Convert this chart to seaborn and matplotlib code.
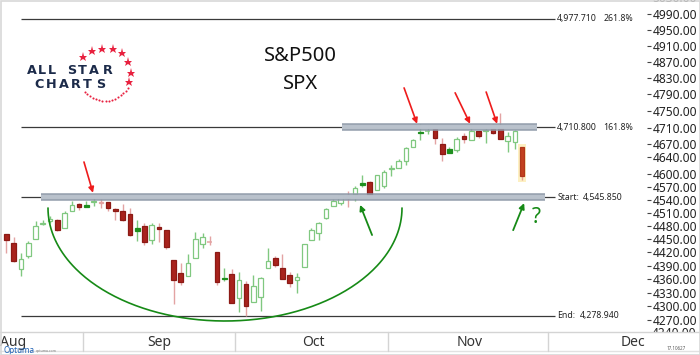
import numpy as np
import pandas as pd
import matplotlib
matplotlib.use("Agg")
import matplotlib.pyplot as plt
import seaborn as sns
from matplotlib.patches import Rectangle
from matplotlib.lines import Line2D
from matplotlib.ticker import FuncFormatter, NullLocator, FixedLocator
from matplotlib.transforms import blended_transform_factory

# ---------------- data ----------------
dates = (["08-17", "08-18", "08-19", "08-20", "08-23", "08-24", "08-25", "08-26", "08-27", "08-30", "08-31"] +
         ["09-01", "09-02", "09-03", "09-07", "09-08", "09-09", "09-10", "09-13", "09-14", "09-15", "09-16",
          "09-17", "09-20", "09-21", "09-22", "09-23", "09-24", "09-27", "09-28", "09-29", "09-30"] +
         ["10-01", "10-04", "10-05", "10-06", "10-07", "10-08", "10-11", "10-12", "10-13", "10-14", "10-15",
          "10-18", "10-19", "10-20", "10-21", "10-22", "10-25", "10-26", "10-27", "10-28", "10-29"] +
         ["11-01", "11-02", "11-03", "11-04", "11-05", "11-08", "11-09", "11-10", "11-11", "11-12", "11-15",
          "11-16", "11-17", "11-18", "11-19", "11-22", "11-23", "11-24", "11-26"])

opens = [4462.12, 4440.94, 4382.44, 4410.56, 4450.29, 4484.40, 4490.45, 4493.75, 4474.10, 4513.76, 4529.75,
         4528.80, 4534.48, 4532.42, 4535.38, 4518.09, 4513.02, 4506.92, 4474.81, 4479.33, 4447.49, 4477.09,
         4469.74, 4402.95, 4374.45, 4367.43, 4406.75, 4438.04, 4442.12, 4419.54, 4362.41, 4370.67,
         4317.16, 4348.84, 4309.87, 4319.57, 4383.73, 4406.51, 4385.44, 4368.31, 4358.01, 4386.75, 4447.69,
         4463.72, 4497.34, 4524.42, 4532.24, 4546.12, 4553.69, 4578.69, 4580.22, 4562.84, 4572.87,
         4610.62, 4613.34, 4630.65, 4662.93, 4699.26, 4701.48, 4707.25, 4670.26, 4659.39, 4655.24, 4689.30,
         4679.42, 4701.50, 4700.72, 4708.44, 4712.00, 4678.48, 4675.78, 4664.63]
highs = [4462.12, 4454.32, 4418.61, 4444.35, 4489.88, 4492.81, 4501.71, 4495.90, 4513.33, 4537.36, 4531.39,
         4537.11, 4545.85, 4541.45, 4535.38, 4521.79, 4529.90, 4520.47, 4492.99, 4485.68, 4486.87, 4485.87,
         4471.52, 4402.95, 4394.87, 4416.75, 4465.40, 4463.12, 4457.30, 4419.54, 4385.57, 4382.55,
         4375.19, 4355.51, 4369.23, 4365.57, 4429.97, 4412.02, 4415.88, 4374.89, 4372.87, 4439.73, 4475.82,
         4488.75, 4520.40, 4540.87, 4551.44, 4559.67, 4572.62, 4598.53, 4584.57, 4597.55, 4608.08,
         4620.34, 4635.15, 4663.46, 4683.00, 4718.50, 4714.92, 4708.53, 4684.85, 4664.55, 4688.47, 4697.42,
         4714.95, 4701.50, 4708.80, 4717.75, 4743.83, 4699.39, 4702.87, 4664.63]
lows = [4417.83, 4397.59, 4367.73, 4406.80, 4450.29, 4482.28, 4485.66, 4468.99, 4474.10, 4513.76, 4515.80,
        4522.02, 4524.66, 4521.79, 4513.00, 4493.95, 4492.07, 4457.66, 4445.70, 4435.46, 4438.37, 4443.80,
        4427.76, 4305.91, 4347.96, 4367.43, 4406.75, 4430.27, 4436.19, 4346.33, 4355.08, 4306.24,
        4288.52, 4278.94, 4309.87, 4290.49, 4383.73, 4386.22, 4360.59, 4342.09, 4329.92, 4386.75, 4447.69,
        4447.47, 4496.41, 4524.40, 4526.89, 4524.00, 4537.36, 4569.17, 4551.66, 4562.84, 4567.59,
        4595.06, 4613.34, 4621.19, 4662.59, 4681.32, 4694.39, 4670.87, 4630.86, 4648.31, 4650.77, 4672.86,
        4679.42, 4684.41, 4672.78, 4694.22, 4682.17, 4652.66, 4659.89, 4585.43]
closes = [4448.08, 4400.27, 4405.80, 4441.67, 4479.53, 4486.23, 4496.19, 4470.00, 4509.37, 4528.79, 4522.68,
          4524.09, 4536.95, 4535.43, 4520.03, 4514.07, 4493.28, 4458.58, 4468.73, 4443.05, 4480.70, 4473.75,
          4432.99, 4357.73, 4354.19, 4395.64, 4448.98, 4455.48, 4443.11, 4352.63, 4359.46, 4307.54,
          4357.04, 4300.46, 4345.72, 4363.55, 4399.76, 4391.34, 4361.19, 4350.65, 4363.80, 4438.26, 4471.37,
          4486.46, 4519.63, 4536.19, 4549.78, 4544.90, 4566.48, 4574.79, 4551.68, 4596.42, 4605.38,
          4613.67, 4630.65, 4660.57, 4680.06, 4697.53, 4701.70, 4685.25, 4646.71, 4649.27, 4682.85, 4682.80,
          4700.90, 4688.67, 4704.54, 4697.96, 4682.94, 4690.70, 4701.46, 4594.62]
prior_close = 4479.71

level_values = [4977.71, 4710.80, 4545.85, 4278.94]
level_left = ["4,977.710", "4,710.800", "Start:", "End:"]
level_right = ["261.8%", "161.8%", "4,545.850", "4,278.940"]

ytick_values = [4270, 4300, 4330, 4360, 4390, 4420, 4450, 4480, 4510, 4540, 4570, 4600,
                4640, 4670, 4710, 4750, 4790, 4830, 4870, 4910, 4950, 4990]
month_names = ["Aug", "Sep", "Oct", "Nov", "Dec"]
month_bounds = [10.5, 31.5, 52.5, 74.6]
month_label_x = [0.9, 21.1, 42.2, 63.8, 86.2]

df = pd.DataFrame({"date": dates, "open": opens, "high": highs, "low": lows, "close": closes})
df["idx"] = np.arange(len(df))
df["prev"] = [prior_close] + closes[:-1]

# ---------------- style ----------------
sns.set_theme(style="white")
plt.rcParams["font.family"] = ["Noto Sans", "DejaVu Sans"]

W, H = 700, 355
fig = plt.figure(figsize=(7, 3.55), dpi=100)
fig.patch.set_facecolor("white")
ax = fig.add_axes([3 / W, 23 / H, 644 / W, 332 / H])
ax.set_facecolor("white")
ax.set_yscale("log")
ax.set_ylim(4244.1, 5026.1)
ax.set_xlim(-0.48, 88.2)
for s in ax.spines.values():
    s.set_visible(False)

GREEN_EDGE = "#80c880"
GREEN_FILL = "#1f8f1f"
RED_FILL = "#a8231d"
RED_EDGE = "#8c1a15"
RED_LIGHT = "#e3a3a3"

# highlight behind last candle
last = df.iloc[-1]
ax.bar(last["idx"], last["high"] * 1.0012 - last["low"] * 0.9988, bottom=last["low"] * 0.9988,
       width=1.15, color="#fdf0c2", edgecolor="none", zorder=1.5)

# candles
for _, r in df.iterrows():
    o, h, l, c, p, i = r["open"], r["high"], r["low"], r["close"], r["prev"], r["idx"]
    hollow = c > o
    up = c >= p
    if hollow:
        col = GREEN_EDGE if up else RED_LIGHT
        wick = col
        face = "white"
        edge = col
    else:
        face = GREEN_FILL if up else RED_FILL
        edge = GREEN_FILL if up else RED_EDGE
        wick = GREEN_EDGE if up else RED_LIGHT
    if i == len(df) - 1:
        face, edge, wick = "#c3401e", "#b0361a", "#e8a090"
    ax.vlines(i, l, h, color=wick, lw=1.0, zorder=2)
    lo_b, hi_b = min(o, c), max(o, c)
    if hi_b - lo_b < 1.2:
        ax.hlines((o + c) / 2, i - 0.36, i + 0.36, color=edge, lw=1.1, zorder=3)
    else:
        ax.bar(i, hi_b - lo_b, bottom=lo_b, width=0.64, color=face, edgecolor=edge,
               linewidth=0.9, zorder=3)

# level lines
for v in level_values:
    ax.hlines(v, 2.0, 75.55, color="#3a3a3a", lw=0.9, zorder=1)
# gray bands
for v, a, b in [(4710.80, 46.2, 73.07), (4545.85, 4.75, 74.17)]:
    ax.hlines(v, a, b, color="#8f9aa9", lw=5.5, zorder=4, alpha=0.9)
    ax.hlines(v, a, b, color="#bcc4ce", lw=2.8, zorder=4.1, alpha=0.95)

for v, lt, rt in zip(level_values, level_left, level_right):
    ax.text(75.85, v, lt, fontsize=6.3, va="center", ha="left", color="#222", clip_on=False)
    xr = 82.2 if "%" in rt else (79.4 if lt.startswith("Start") else 79.0)
    ax.text(xr, v, rt, fontsize=6.3, va="center", ha="left", color="#222", clip_on=False)

# y axis
ax.yaxis.tick_right()
ax.yaxis.set_major_locator(FixedLocator(ytick_values))
ax.yaxis.set_minor_locator(NullLocator())
ax.yaxis.set_major_formatter(FuncFormatter(lambda v, p: f"{v:.2f}"))
ax.tick_params(axis="y", which="major", right=True, length=3, width=0.8, color="#444",
               labelsize=8.6, labelcolor="#222", pad=1)
ax.tick_params(axis="x", bottom=False, labelbottom=False)
ybl = blended_transform_factory(ax.transAxes, ax.transData)
for v in [5030, 4240]:
    ax.text(1.0 + 5 / 644, v, f"{v:.2f}", transform=ybl, fontsize=8.6, color="#222",
            va="center", ha="left", clip_on=False)

# red arrows
red_arrows = [((10.67, 4628), (11.91, 4556)), ((54.75, 4806), (56.54, 4719)),
              ((61.78, 4794), (63.84, 4719)), ((66.05, 4796), (67.56, 4719))]
for tail, tip in red_arrows:
    ax.annotate("", xy=tip, xytext=tail,
                arrowprops=dict(arrowstyle="-|>", color="#ee1c1c", lw=1.2, mutation_scale=8,
                                shrinkA=0, shrinkB=0), zorder=6)
green_arrows = [((50.34, 4459), (48.69, 4528)), ((69.77, 4470), (71.28, 4532))]
for tail, tip in green_arrows:
    ax.annotate("", xy=tip, xytext=tail,
                arrowprops=dict(arrowstyle="-|>", color="#168a16", lw=1.3, mutation_scale=8,
                                shrinkA=0, shrinkB=0), zorder=6)
ax.text(72.93, 4498, "?", fontsize=15, color="#168a16", ha="center", va="center", zorder=6)

# pixel helpers for decorations
def fx(x):
    return np.asarray(x) / W

def fy(y):
    return 1 - np.asarray(y) / H

# green arc (lower half ellipse)
t = np.linspace(0, np.pi, 200)
arc_x = 225 - 177 * np.cos(t)
arc_y = 208 + 113 * np.sin(t)
fig.add_artist(Line2D(fx(arc_x), fy(arc_y), transform=fig.transFigure, color="#168a16", lw=1.2, zorder=3))

# title
fig.text(fx(300), fy(56), "S&P500", fontsize=14.5, ha="center", va="center", color="#111")
fig.text(fx(300), fy(84), "SPX", fontsize=14.5, ha="center", va="center", color="#111")

# logo
navy = "#1c2b4a"
for ch, x in zip("ALLSTAR", [32, 41.5, 51.5, 72, 82.5, 93.5, 108]):
    fig.text(fx(x), fy(70.5), ch, fontsize=9.2, fontweight="bold", color=navy, ha="center", va="center",
             family="DejaVu Sans")
for ch, x in zip("CHARTS", [39.5, 51.5, 63.5, 75.5, 87.5, 100.5]):
    fig.text(fx(x), fy(84), ch, fontsize=9.2, fontweight="bold", color=navy, ha="center", va="center",
             family="DejaVu Sans")
star_px = [(83, 57), (92, 51), (102, 49), (113, 49), (122, 53), (128, 62), (131, 73), (129, 82)]
fig.add_artist(Line2D([fx(p[0]) for p in star_px], [fy(p[1]) for p in star_px], transform=fig.transFigure,
                      ls="none", marker="*", markersize=6.5, color="#e8213f", markeredgewidth=0))
ang = np.radians(np.linspace(30, 140, 16))
fig.add_artist(Line2D(fx(105 + 26 * np.cos(ang)), fy(75 + 26 * np.sin(ang)), transform=fig.transFigure,
                      ls="none", marker="o", markersize=1.5, color="#e8213f", markeredgewidth=0))

# bottom band
fig.add_artist(Rectangle((0, 0), 1, 23 / H, transform=fig.transFigure, facecolor="white",
                         edgecolor="none", zorder=5))
fig.add_artist(Line2D([0, 1], [23 / H, 23 / H], transform=fig.transFigure, color="#d4d4d4", lw=1, zorder=6))
fig.add_artist(Line2D([0, 1], [4 / H, 4 / H], transform=fig.transFigure, color="#e2e2e2", lw=1, zorder=6))
xb = blended_transform_factory(ax.transData, fig.transFigure)
for b in month_bounds:
    fig.add_artist(Line2D([b, b], [4 / H, 23 / H], transform=xb, color="#d4d4d4", lw=1, zorder=6))
for name, x in zip(month_names, month_label_x):
    fig.text(x, fy(342), name, transform=xb, fontsize=10, color="#333", ha="center", va="center", zorder=7)
fig.text(fx(4), fy(350.5), "Optuma", fontsize=5.8, color="#1a5fb4", fontweight="bold", ha="left",
         va="center", zorder=8)
fig.text(fx(36), fy(351), "optuma.com", fontsize=2.5, color="#777", ha="left", va="center", zorder=8)
fig.text(fx(676), fy(349), "17.10627", fontsize=3.2, color="#555", ha="center", va="center", zorder=8)

# frame
fig.add_artist(Rectangle((0.5 / W, 0.5 / H), 1 - 1 / W, 1 - 1 / H, transform=fig.transFigure, fill=False,
                         edgecolor="#d8d8d8", lw=1.2, zorder=9))

fig.savefig("out.png", dpi=100, facecolor="white")
